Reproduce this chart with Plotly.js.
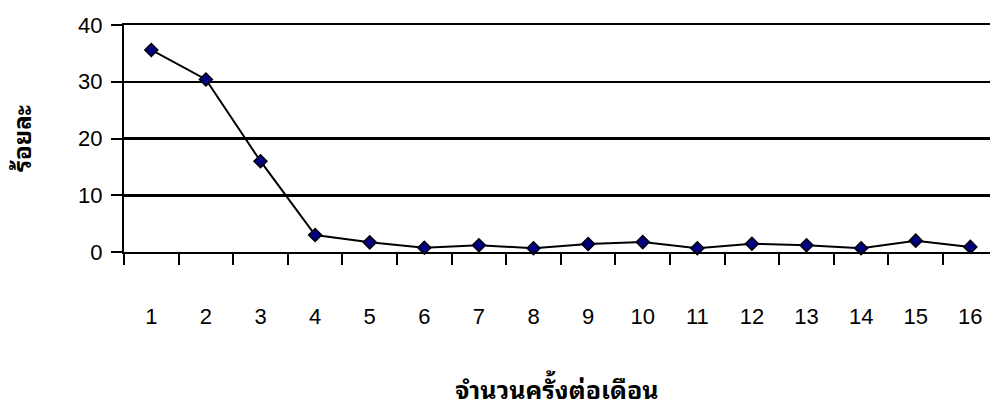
<!DOCTYPE html>
<html>
<head>
<meta charset="utf-8">
<script src="https://cdn.plot.ly/plotly-3.0.1.min.js"></script>
<style>
  html, body { margin: 0; padding: 0; background: #fff; overflow: hidden; }
  #chart { width: 990px; height: 408px; }
</style>
</head>
<body>
<div id="chart"></div>
<script>
// Times per month (categories) and the share of respondents (%)
const categories = [1, 2, 3, 4, 5, 6, 7, 8, 9, 10, 11, 12, 13, 14, 15, 16];
const tickLabels = ['1', '2', '3', '4', '5', '6', '7', '8', '9', '10', '11', '12', '13', '14', '15', '16'];
const percentValues = [35.6, 30.4, 16.0, 3.0, 1.7, 0.75, 1.2, 0.65, 1.4, 1.75, 0.65, 1.45, 1.2, 0.65, 2.0, 0.9];
const yTicks = [0, 10, 20, 30, 40];

const xTitle = 'จำนวนครั้งต่อเดือน';
const yTitle = 'ร้อยละ';

// category boundaries carry the tick marks; labels sit at the category centres
const boundaries = categories.map(c => c - 0.5);
const xRange = [0.5, 16.36];
const yRange = [0, 40];

const latin = 'Liberation Sans, Arial, sans-serif';
const thai = 'Noto Sans Thai Looped, Noto Serif Thai, Norasi, Kinnari, Garuda, Loma, Noto Sans Thai, Noto Sans, serif';

const trace = {
  x: categories,
  y: percentValues,
  type: 'scatter',
  mode: 'lines+markers',
  line: { color: '#000000', width: 2 },
  marker: {
    symbol: 'diamond',
    size: 10,
    color: '#000080',
    line: { color: '#000000', width: 1.5 }
  },
  hoverinfo: 'x+y',
  showlegend: false,
  cliponaxis: false
};

// invisible companion trace so the label axis is drawn
const labelTrace = {
  x: categories,
  y: percentValues,
  xaxis: 'x2',
  type: 'scatter',
  mode: 'markers',
  marker: { opacity: 0 },
  hoverinfo: 'skip',
  showlegend: false
};

const layout = {
  width: 990,
  height: 408,
  margin: { l: 124, r: 0, t: 25.3, b: 155.5, pad: 0 },
  paper_bgcolor: '#ffffff',
  plot_bgcolor: '#ffffff',
  font: { family: latin, size: 22, color: '#000000' },
  xaxis: {
    range: xRange,
    tickmode: 'array',
    tickvals: boundaries,
    showticklabels: false,
    ticks: 'outside',
    ticklen: 11,
    tickwidth: 2,
    tickcolor: '#000000',
    showline: true,
    mirror: true,          // top border doubles as the 40 gridline
    linecolor: '#000000',
    linewidth: 2,
    showgrid: false,
    zeroline: false,
    fixedrange: true,
    title: {
      text: xTitle,
      font: { family: thai, size: 25, color: '#000000', weight: 'bold' },
      standoff: 121
    }
  },
  xaxis2: {
    overlaying: 'x',
    side: 'bottom',
    anchor: 'y',
    range: xRange,
    tickmode: 'array',
    tickvals: categories,
    ticktext: tickLabels,
    ticks: '',
    ticklabelstandoff: 49,
    tickfont: { family: latin, size: 22, color: '#000000' },
    showline: false,
    showgrid: false,
    zeroline: false,
    fixedrange: true
  },
  yaxis: {
    range: yRange,
    tickmode: 'array',
    tickvals: yTicks,
    ticks: 'outside',
    ticklen: 11,
    tickwidth: 2,
    tickcolor: '#000000',
    ticklabelstandoff: 4,
    tickfont: { family: latin, size: 22, color: '#000000' },
    showline: true,
    linecolor: '#000000',
    linewidth: 2,
    showgrid: true,
    gridcolor: '#000000',
    gridwidth: 2.5,
    zeroline: false,
    fixedrange: true,
    title: {
      text: yTitle,
      font: { family: thai, size: 24, color: '#000000', weight: 'bold' },
      standoff: 40
    }
  }
};

Plotly.newPlot('chart', [labelTrace, trace], layout, { displayModeBar: false, staticPlot: true });
</script>
</body>
</html>
